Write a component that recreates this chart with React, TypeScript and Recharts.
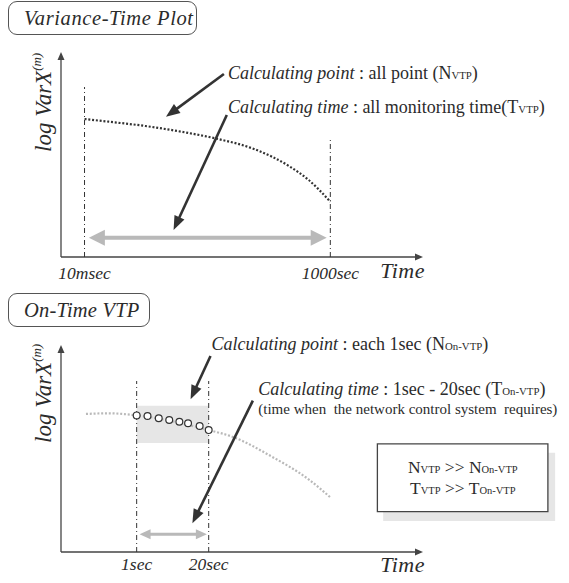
import React from 'react';
import {
  ComposedChart,
  Line,
  Scatter,
  XAxis,
  YAxis,
  ReferenceLine,
  ReferenceArea,
  ReferenceDot,
} from 'recharts';

const FONT = '"Liberation Serif", "Times New Roman", serif';
const INK = '#2b2b2b';
const GREY = '#b9b9b9';

// Variance-Time Plot: the whole curve (position along the time axis, log Var)
const vtpCurve = [
  { t: 6.5, v: 67.3 },
  { t: 13.2, v: 66.0 },
  { t: 23.3, v: 63.9 },
  { t: 33.3, v: 61.1 },
  { t: 43.3, v: 57.6 },
  { t: 53.3, v: 52.7 },
  { t: 63.3, v: 44.0 },
  { t: 68.4, v: 37.6 },
  { t: 74.4, v: 27.0 },
];
const vtpTicks = [6.5, 74.4];
const vtpTickLabels = ['10msec', '1000sec'];

// On-Time VTP: faded curve and the points computed each second
const onTimeCurve = [
  { t: 6.9, v: 66.7 },
  { t: 13.2, v: 67.0 },
  { t: 20.9, v: 66.0 },
  { t: 40.8, v: 58.9 },
  { t: 47.3, v: 55.7 },
  { t: 58.3, v: 46.0 },
  { t: 68.4, v: 35.1 },
  { t: 74.6, v: 26.1 },
];
const onTimePoints = [
  { t: 20.9, v: 66.0 },
  { t: 23.9, v: 65.7 },
  { t: 27.0, v: 64.6 },
  { t: 29.9, v: 63.8 },
  { t: 32.7, v: 62.9 },
  { t: 35.1, v: 62.2 },
  { t: 38.3, v: 60.9 },
  { t: 40.8, v: 58.9 },
];
const onTimeTicks = [20.9, 40.8];
const onTimeTickLabels = ['1sec', '20sec'];

type ArrowOpts = { color: string; width: number; head: number; headW: number; both?: boolean };

const arrow = (o: ArrowOpts) => (p: any) => {
  const { x1, y1, x2, y2 } = p;
  const len = Math.hypot(x2 - x1, y2 - y1) || 1;
  const ux = (x2 - x1) / len;
  const uy = (y2 - y1) / len;
  const nx = -uy;
  const ny = ux;
  const head = (tx: number, ty: number, sx: number, sy: number) => {
    const bx = tx - sx * o.head;
    const by = ty - sy * o.head;
    return `${tx},${ty} ${bx + (nx * o.headW) / 2},${by + (ny * o.headW) / 2} ${bx - (nx * o.headW) / 2},${by - (ny * o.headW) / 2}`;
  };
  const cut = o.head * 0.8;
  return (
    <g>
      <line
        x1={o.both ? x1 + ux * cut : x1}
        y1={o.both ? y1 + uy * cut : y1}
        x2={x2 - ux * cut}
        y2={y2 - uy * cut}
        stroke={o.color}
        strokeWidth={o.width}
      />
      <polygon points={head(x2, y2, ux, uy)} fill={o.color} />
      {o.both && <polygon points={head(x1, y1, -ux, -uy)} fill={o.color} />}
    </g>
  );
};

const axisArrow = arrow({ color: '#444', width: 1.3, head: 8, headW: 7 });
const darkArrow = arrow({ color: '#333', width: 2.6, head: 14, headW: 11 });
const greyArrow = arrow({ color: GREY, width: 4, head: 16, headW: 16, both: true });
const smallGreyArrow = arrow({ color: GREY, width: 3, head: 11, headW: 10, both: true });

type Part = { s: string; it?: boolean; sub?: boolean };

const note = (parts: Part[], size: number, anchor: 'start' | 'middle' = 'start') => (p: any) => (
  <text
    x={p.cx}
    y={p.cy}
    fontFamily={FONT}
    fontSize={size}
    fill={INK}
    textAnchor={anchor}
    style={{ whiteSpace: 'pre' }}
  >
    {parts.map((q, i) => (
      <tspan key={i} fontStyle={q.it ? 'italic' : 'normal'} fontSize={q.sub ? size * 0.6 : size}>
        {q.s}
      </tspan>
    ))}
  </text>
);

const yLabel = (dy: number) => (props: any) => {
  const vb = props.viewBox;
  const x = vb.x + 51;
  const y = vb.y + dy;
  return (
    <text
      x={x}
      y={y}
      transform={`rotate(-90 ${x} ${y})`}
      fontFamily={FONT}
      fontStyle="italic"
      fontSize={23}
      fill={INK}
    >
      log VarX
      <tspan fontSize={13} dy={-10}>
        (m)
      </tspan>
    </text>
  );
};

const timeLabel = (dy: number) => (props: any) => {
  const vb = props.viewBox;
  return (
    <text
      x={vb.x + vb.width + 2}
      y={vb.y + dy}
      textAnchor="end"
      fontFamily={FONT}
      fontStyle="italic"
      fontSize={22}
      letterSpacing={0.5}
      fill={INK}
    >
      Time
    </text>
  );
};

const tickText = (ticks: number[], labels: string[], dy: number) => (p: any) => (
  <text
    x={p.x}
    y={p.y + dy}
    textAnchor="middle"
    fontFamily={FONT}
    fontStyle="italic"
    fontSize={17.5}
    fill={INK}
  >
    {labels[ticks.indexOf(p.payload.value)]}
  </text>
);

const ring = (p: any) => <circle cx={p.cx} cy={p.cy} r={3.4} fill="#fff" stroke="#333" strokeWidth={1.2} />;

const dashDot = { stroke: '#333', strokeWidth: 1, strokeDasharray: '5 3 1 3' };

const titleBox = (top: number, width: number): React.CSSProperties => ({
  position: 'absolute',
  left: 8,
  top,
  width,
  height: 32,
  border: '1px solid #555',
  borderRadius: 9,
  boxSizing: 'content-box',
  fontFamily: FONT,
  fontStyle: 'italic',
  fontSize: 20.5,
  lineHeight: '32px',
  color: INK,
  whiteSpace: 'nowrap',
});

export default function App() {
  return (
    <div style={{ position: 'absolute', left: 0, top: 0, width: 569, height: 583, background: '#fff' }}>
      <div style={{ ...titleBox(1, 187) }}>
        <span style={{ marginLeft: 15, letterSpacing: 0.6 }}>Variance-Time Plot</span>
      </div>

      <div style={{ position: 'absolute', left: 0, top: 0 }}>
        <ComposedChart width={569} height={290} margin={{ top: 52, right: 146, bottom: 0, left: 0 }}>
          <XAxis
            type="number"
            dataKey="t"
            domain={[0, 100]}
            allowDataOverflow
            ticks={vtpTicks}
            height={33}
            axisLine={false}
            tickLine={false}
            tick={tickText(vtpTicks, vtpTickLabels, 14)}
            label={timeLabel(21)}
          />
          <YAxis
            type="number"
            dataKey="v"
            domain={[0, 100]}
            allowDataOverflow
            width={61}
            axisLine={false}
            tickLine={false}
            tick={false}
            label={yLabel(100)}
          />
          <ReferenceLine segment={[{ x: 0, y: 0 }, { x: 100, y: 0 }]} ifOverflow="visible" shape={axisArrow} />
          <ReferenceLine segment={[{ x: 0, y: 0 }, { x: 0, y: 100 }]} ifOverflow="visible" shape={axisArrow} />
          <ReferenceLine segment={[{ x: 6.5, y: 0 }, { x: 6.5, y: 82.9 }]} ifOverflow="visible" {...dashDot} />
          <ReferenceLine segment={[{ x: 74.4, y: 0 }, { x: 74.4, y: 58.5 }]} ifOverflow="visible" {...dashDot} />
          <ReferenceLine segment={[{ x: 7.7, y: 9.4 }, { x: 73.4, y: 9.4 }]} ifOverflow="visible" shape={greyArrow} />
          <Line
            data={vtpCurve}
            dataKey="v"
            type="monotone"
            stroke="#333"
            strokeWidth={2.2}
            strokeDasharray="2 1.8"
            dot={false}
            isAnimationActive={false}
          />
          <ReferenceLine segment={[{ x: 45.0, y: 89.3 }, { x: 29.0, y: 68.4 }]} ifOverflow="visible" shape={darkArrow} />
          <ReferenceLine segment={[{ x: 45.8, y: 69.3 }, { x: 31.1, y: 13.2 }]} ifOverflow="visible" shape={darkArrow} />
          <ReferenceDot
            x={46.1}
            y={87.0}
            r={0}
            ifOverflow="visible"
            shape={note(
              [
                { s: 'Calculating point', it: true },
                { s: ' : all point (N' },
                { s: 'VTP', sub: true },
                { s: ')' },
              ],
              18,
            )}
          />
          <ReferenceDot
            x={46.1}
            y={70.1}
            r={0}
            ifOverflow="visible"
            shape={note(
              [
                { s: 'Calculating time', it: true },
                { s: ' : all monitoring time(T' },
                { s: 'VTP', sub: true },
                { s: ')' },
              ],
              18,
            )}
          />
        </ComposedChart>
      </div>

      <div style={{ ...titleBox(293, 140) }}>
        <span style={{ marginLeft: 15, letterSpacing: 0.2 }}>On-Time VTP</span>
      </div>

      <div style={{ position: 'absolute', left: 0, top: 290 }}>
        <ComposedChart width={569} height={293} margin={{ top: 55, right: 146, bottom: 0, left: 0 }}>
          <XAxis
            type="number"
            dataKey="t"
            domain={[0, 100]}
            allowDataOverflow
            ticks={onTimeTicks}
            height={31}
            axisLine={false}
            tickLine={false}
            tick={tickText(onTimeTicks, onTimeTickLabels, 10)}
            label={timeLabel(20)}
          />
          <YAxis
            type="number"
            dataKey="v"
            domain={[0, 100]}
            allowDataOverflow
            width={61}
            axisLine={false}
            tickLine={false}
            tick={false}
            label={yLabel(98)}
          />
          <ReferenceArea x1={20.9} x2={40.8} y1={52.7} y2={70.7} ifOverflow="visible" fill="#e6e6e6" fillOpacity={1} stroke="none" />
          <ReferenceArea x1={89.0} x2={136.5} y1={15.0} y2={48.0} ifOverflow="visible" fill="#e6e6e6" fillOpacity={1} stroke="none" />
          <ReferenceArea x1={87.4} x2={134.5} y1={19.5} y2={52.2} ifOverflow="visible" fill="#fff" fillOpacity={1} stroke="#444" strokeWidth={1.3} />
          <ReferenceLine segment={[{ x: 0, y: 0 }, { x: 100, y: 0 }]} ifOverflow="visible" shape={axisArrow} />
          <ReferenceLine segment={[{ x: 0, y: 0 }, { x: 0, y: 100 }]} ifOverflow="visible" shape={axisArrow} />
          <ReferenceLine segment={[{ x: 20.9, y: 0 }, { x: 20.9, y: 82.6 }]} ifOverflow="visible" {...dashDot} />
          <ReferenceLine segment={[{ x: 40.8, y: 0 }, { x: 40.8, y: 82.6 }]} ifOverflow="visible" {...dashDot} />
          <ReferenceLine segment={[{ x: 21.7, y: 8.6 }, { x: 40.3, y: 8.6 }]} ifOverflow="visible" shape={smallGreyArrow} />
          <Line
            data={onTimeCurve}
            dataKey="v"
            type="monotone"
            stroke={GREY}
            strokeWidth={2.2}
            strokeDasharray="2 1.8"
            dot={false}
            isAnimationActive={false}
          />
          <Scatter data={onTimePoints} dataKey="v" shape={ring} isAnimationActive={false} />
          <ReferenceLine segment={[{ x: 41.3, y: 94.7 }, { x: 35.8, y: 73.8 }]} ifOverflow="visible" shape={darkArrow} />
          <ReferenceLine segment={[{ x: 53.0, y: 73.1 }, { x: 36.3, y: 13.9 }]} ifOverflow="visible" shape={darkArrow} />
          <ReferenceDot
            x={41.6}
            y={97.6}
            r={0}
            ifOverflow="visible"
            shape={note(
              [
                { s: 'Calculating point', it: true },
                { s: ' : each 1sec (N' },
                { s: 'On-VTP', sub: true },
                { s: ')' },
              ],
              18,
            )}
          />
          <ReferenceDot
            x={54.5}
            y={75.9}
            r={0}
            ifOverflow="visible"
            shape={note(
              [
                { s: 'Calculating time', it: true },
                { s: ' : 1sec - 20sec (T' },
                { s: 'On-VTP', sub: true },
                { s: ')' },
              ],
              18,
            )}
          />
          <ReferenceDot
            x={54.5}
            y={66.8}
            r={0}
            ifOverflow="visible"
            shape={note([{ s: '(time when  the network control system  requires)' }], 15)}
          />
          <ReferenceDot
            x={111.0}
            y={38.0}
            r={0}
            ifOverflow="visible"
            shape={note(
              [{ s: 'N' }, { s: 'VTP', sub: true }, { s: ' >> N' }, { s: 'On-VTP', sub: true }],
              17.5,
              'middle',
            )}
          />
          <ReferenceDot
            x={111.0}
            y={28.0}
            r={0}
            ifOverflow="visible"
            shape={note(
              [{ s: 'T' }, { s: 'VTP', sub: true }, { s: ' >> T' }, { s: 'On-VTP', sub: true }],
              17.5,
              'middle',
            )}
          />
        </ComposedChart>
      </div>
    </div>
  );
}
